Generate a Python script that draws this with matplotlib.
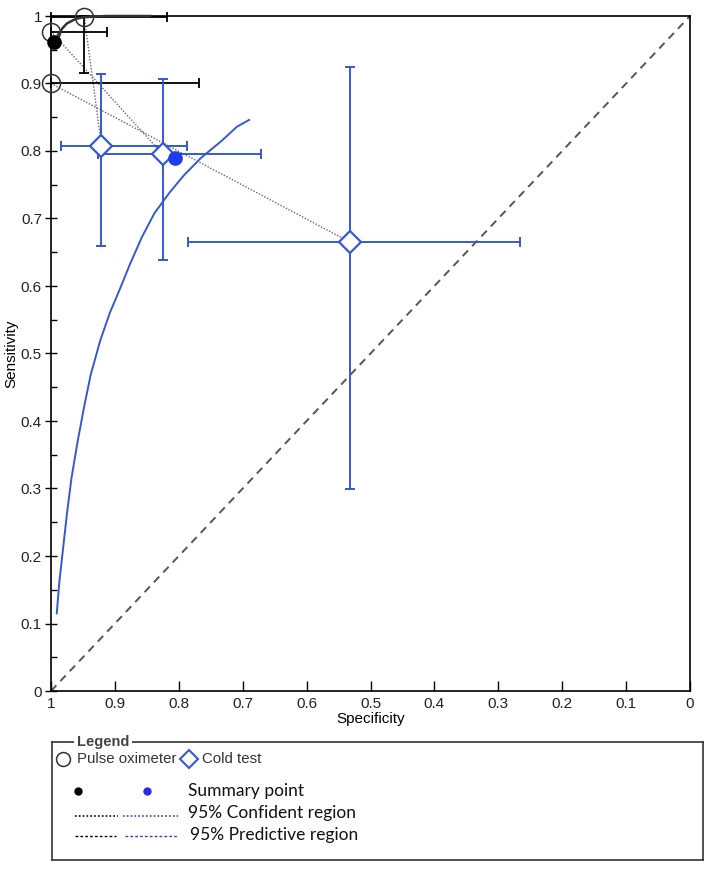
import numpy as np
import matplotlib.pyplot as plt

# Pulse oximeter studies (open circles)
po_spec = [1.0, 0.948, 1.0]
po_sens = [0.977, 0.999, 0.900]
po_spec_lo = [0.913, 0.818, 0.768]
po_spec_hi = [1.0, 1.0, 1.0]
po_sens_lo = [0.977, 0.915, 0.900]
po_sens_hi = [0.977, 1.0, 0.900]

# Cold test studies (diamonds)
ct_spec = [0.921, 0.825, 0.532]
ct_sens = [0.808, 0.795, 0.665]
ct_spec_lo = [0.787, 0.672, 0.266]
ct_spec_hi = [0.984, 0.926, 0.786]
ct_sens_lo = [0.659, 0.638, 0.299]
ct_sens_hi = [0.914, 0.907, 0.924]

# summary points
po_sum = (0.995, 0.961)
ct_sum = (0.806, 0.789)

# SROC curves
po_sroc_spec = [0.989, 0.982, 0.975, 0.967, 0.960, 0.950, 0.935, 0.915, 0.890, 0.845]
po_sroc_sens = [0.972, 0.982, 0.989, 0.993, 0.996, 0.998, 0.999, 1.0, 1.0, 1.0]
ct_sroc_spec = [0.991, 0.987, 0.981, 0.975, 0.968, 0.959, 0.949, 0.938, 0.923, 0.908,
                0.892, 0.877, 0.858, 0.838, 0.814, 0.792, 0.765, 0.733, 0.709, 0.690]
ct_sroc_sens = [0.115, 0.161, 0.212, 0.263, 0.315, 0.366, 0.417, 0.468, 0.519, 0.560,
                0.596, 0.631, 0.672, 0.708, 0.739, 0.764, 0.790, 0.815, 0.836, 0.846]

# paired study links: pulse oximeter index -> cold test index
pairs = [(1, 0), (0, 1), (2, 2)]

BLUE = '#3558d6'
TICKFONT = ['Liberation Sans Narrow', 'Liberation Sans', 'DejaVu Sans']

fig = plt.figure(figsize=(7.05, 8.71), dpi=100)
ax = fig.add_axes([51/705, 1-691/871, 639/705, 675/871])
ax.set_xlim(1, 0)
ax.set_ylim(0, 1)

# chance line
ax.plot([1, 0], [0, 1], ls=(0, (4, 3)), color='#555555', lw=1.4, zorder=1)

# links between paired results
for i, j in pairs:
    ax.plot([po_spec[i], ct_spec[j]], [po_sens[i], ct_sens[j]], ls=(0, (1, 1.2)),
            color='#666666', lw=1.0, zorder=2)


def ci_bars(spec, sens, slo, shi, elo, ehi, color, lw):
    for i in range(len(spec)):
        if shi[i] > slo[i]:
            ax.plot([slo[i], shi[i]], [sens[i], sens[i]], color=color, lw=lw, zorder=3,
                    clip_on=False)
            ax.plot([slo[i], shi[i]], [sens[i], sens[i]], ls='none', marker='|',
                    ms=7, mew=lw, color=color, zorder=3, clip_on=False)
        if ehi[i] > elo[i]:
            ax.plot([spec[i], spec[i]], [elo[i], ehi[i]], color=color, lw=lw, zorder=3,
                    clip_on=False)
            ax.plot([spec[i], spec[i]], [elo[i], ehi[i]], ls='none', marker='_',
                    ms=7, mew=lw, color=color, zorder=3, clip_on=False)


ci_bars(po_spec, po_sens, po_spec_lo, po_spec_hi, po_sens_lo, po_sens_hi, 'black', 1.3)
ci_bars(ct_spec, ct_sens, ct_spec_lo, ct_spec_hi, ct_sens_lo, ct_sens_hi, BLUE, 1.4)

# SROC curves
ax.plot(po_sroc_spec, po_sroc_sens, color='#333333', lw=1.8, zorder=4, clip_on=False)
ax.plot(ct_sroc_spec, ct_sroc_sens, color=BLUE, lw=1.4, zorder=4)

# study markers
ax.plot(po_spec, po_sens, ls='none', marker='o', ms=13, mfc='none', mec='#333333', mew=1.1,
        zorder=5, clip_on=False)
ax.plot(ct_spec, ct_sens, ls='none', marker='D', ms=11, mfc='white', mec=BLUE, mew=1.6, zorder=5)

# summary points
ax.plot(*po_sum, ls='none', marker='o', ms=9.5, color='black', zorder=6, clip_on=False)
ax.plot(*ct_sum, ls='none', marker='o', ms=9.5, color='#1f3cf0', zorder=6)

ticks = np.arange(0, 1.01, 0.1)
labels = ['0'] + ['%.1f' % t for t in ticks[1:-1]] + ['1']
ax.set_xticks(ticks)
ax.set_xticklabels(labels)
ax.set_yticks(ticks)
ax.set_yticklabels(labels)
ax.set_yticks(np.arange(0.05, 1.0, 0.1), minor=True)
ax.tick_params(axis='x', direction='in', length=7, width=1, pad=4, labelsize=11)
ax.tick_params(axis='y', direction='inout', length=9, width=1, pad=2, labelsize=11)
ax.tick_params(axis='y', which='minor', direction='in', length=4, width=1)
for lab in ax.get_xticklabels() + ax.get_yticklabels():
    lab.set_family(TICKFONT)
    lab.set_color('#222222')
for sp in ax.spines.values():
    sp.set_linewidth(1.2)
ax.set_xlabel('Specificity', family=TICKFONT, fontsize=11, labelpad=1)
ax.set_ylabel('Sensitivity', family=TICKFONT, fontsize=11, labelpad=2)

# legend box (pixel coordinates inside its own axes)
lg = fig.add_axes([52/705, 1-860/871, 651/705, 118/871])
lg.set_xlim(52, 703)
lg.set_ylim(860, 742)
lg.set_xticks([])
lg.set_yticks([])
for sp in lg.spines.values():
    sp.set_linewidth(1.2)
    sp.set_color('#333333')
lg.text(77, 742, 'Legend', fontsize=10.5, fontweight='bold', color='#444444', va='center',
        family=['Liberation Sans', 'DejaVu Sans'],
        bbox=dict(facecolor='white', edgecolor='none', pad=2))
lg.plot([63], [759], marker='o', ms=10, mfc='none', mec='#333333', mew=1.1, clip_on=False)
lg.text(77, 759, 'Pulse oximeter', fontsize=10.8, color='#333333', va='center',
        family=['Liberation Sans', 'DejaVu Sans'])
lg.plot([189], [759], marker='D', ms=9, mfc='white', mec=BLUE, mew=1.5)
lg.text(202, 759, 'Cold test', fontsize=10.8, color='#333333', va='center',
        family=['Liberation Sans', 'DejaVu Sans'])

lg.plot([78], [791], marker='o', ms=5, color='black')
lg.plot([147], [791], marker='o', ms=5, color='#2a2ae0')
lg.plot([75, 118], [816, 816], ls=(0, (1, 1.3)), color='black', lw=1.2)
lg.plot([123, 178], [816, 816], ls=(0, (1, 1.3)), color='#3a3ad8', lw=1.2)
lg.plot([75, 116], [836, 836], ls=(0, (2, 1.5)), color='black', lw=1.0)
lg.plot([125, 177], [836, 836], ls=(0, (2, 1.5)), color='#3a3ad8', lw=1.0)
for y, s, x in [(791, 'Summary point', 188), (813, '95% Confident region', 188),
                (835, '95% Predictive region', 190)]:
    lg.text(x, y, s, fontsize=12.5, color='#111111', va='center',
            family=['Lato', 'DejaVu Sans'])

fig.savefig('out.png', dpi=100)
